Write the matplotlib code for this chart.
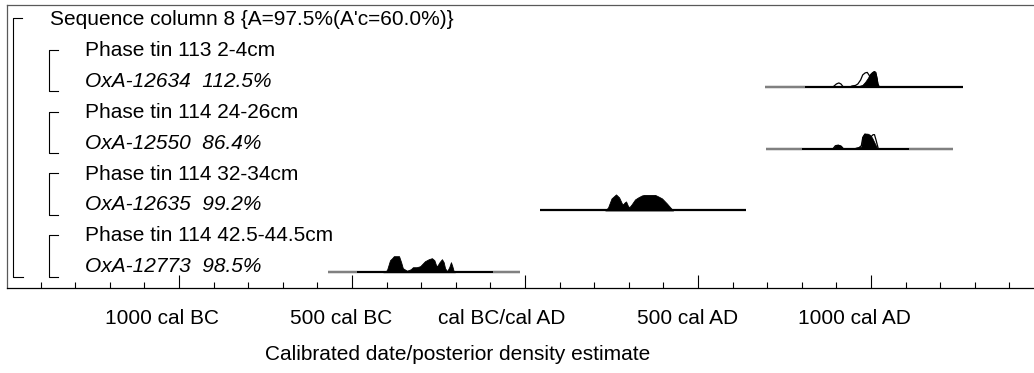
import numpy as np
import matplotlib
matplotlib.use("Agg")
import matplotlib.pyplot as plt
from matplotlib.transforms import ScaledTranslation, blended_transform_factory

plt.rcParams['font.family'] = ['Liberation Sans', 'DejaVu Sans']

# ---- model structure (row labels, top to bottom) ----
sequence_label = "Sequence column 8 {A=97.5%(A'c=60.0%)}"
phase_labels = ["Phase tin 113 2-4cm", "Phase tin 114 24-26cm",
                "Phase tin 114 32-34cm", "Phase tin 114 42.5-44.5cm"]
sample_labels = ["OxA-12634  112.5%", "OxA-12550  86.4%",
                 "OxA-12635  99.2%", "OxA-12773  98.5%"]

# ---- posterior densities (calendar year, relative probability) ----
post_12634_year = [957, 965, 975, 983, 991, 997, 1003, 1009, 1013, 1017, 1020]
post_12634_prob = [0, 1, 2, 5, 9, 13, 15, 16, 15, 8, 0]
post_12550_year = [890, 897, 905, 913, 920, 945, 955, 965, 972, 975, 981, 990,
                   996, 1003, 1010, 1017, 1020]
post_12550_prob = [0, 3, 4, 3, 0, 0, 1, 1.5, 2, 12, 15, 15, 14, 11, 6, 1, 0]
post_12635_year = [232, 240, 250, 263, 272, 280, 283, 288, 292, 297, 301, 308,
                   318, 327, 338, 345, 376, 385, 396, 410, 420, 428]
post_12635_prob = [0, 3, 12, 16, 13, 7, 6, 8, 9, 5, 3, 6, 11, 13, 15, 15.5,
                   15.5, 14, 12, 7, 3, 0]
post_12773_year = [-410, -399, -390, -384, -379, -364, -358, -353, -341, -330,
                   -324, -313, -303, -289, -278, -269, -262, -257, -254, -247,
                   -240, -235, -231, -225, -219, -214, -210, -206, -202]
post_12773_prob = [0, 2, 12, 14, 16, 16, 10, 4, 1.5, 3, 5, 5, 6, 11, 13, 14, 12,
                   7, 6, 10, 13, 10, 4, 1, 5, 10, 6, 1, 0]

# ---- unmodelled likelihoods (outline only) ----
like_12634_year = [890, 900, 907, 913, 920, 940, 945, 955, 962, 970, 976, 983,
                   989, 994, 997, 1003, 1009, 1015, 1020, 1024]
like_12634_prob = [0, 3, 4, 3, 0, 0, 1, 1.5, 3, 7, 12, 14, 14.5, 12, 10, 13, 15,
                   12, 3, 0]
like_12550_year = [890, 897, 905, 913, 920, 955, 965, 972, 976, 982, 988, 994,
                   1000, 1006, 1010, 1015, 1021]
like_12550_prob = [0, 3, 3.5, 2.5, 0, 0, 1, 3, 11, 14.5, 14, 10, 12, 14, 14, 8, 0]

# ---- range lines: full extent and grey (outer) segments ----
range_full = [(694, 1266), (697, 1237), (43, 639), (-569, -14)]
range_grey = [[(694, 809)], [(697, 801), (1110, 1237)], [],
              [(-569, -486), (-92, -14)]]

posteriors = [(post_12634_year, post_12634_prob), (post_12550_year, post_12550_prob),
              (post_12635_year, post_12635_prob), (post_12773_year, post_12773_prob)]
likelihoods = [(like_12634_year, like_12634_prob), (like_12550_year, like_12550_prob),
               None, None]

# ---- axis ----
major_years = [-1000, -500, 0, 500, 1000]
major_labels = ["1000 cal BC", "500 cal BC", "cal BC/cal AD", "500 cal AD", "1000 cal AD"]
minor_years = np.arange(-1400, 1401, 100)

W, H = 1034, 373
fig = plt.figure(figsize=(W / 100, H / 100), dpi=100)
ax = fig.add_axes([7 / W, 1 - 288 / H, 1 - 7 / W, (288 - 5) / H])

row_px = 30.88
ax.set_ylim((288 - 25.2) / row_px, (5 - 25.2) / row_px)
ax.set_xlim(-1497, 1471)

peak_height = 0.52  # rows occupied by a density of relative value 16
scale = peak_height / 16.0

xt = blended_transform_factory(ax.transAxes, ax.transData)

# sequence label on row 0
ax.text(0.0415, 0, sequence_label, transform=xt, fontsize=15, va='baseline', ha='left')

for k in range(4):
    prow = 1 + 2 * k
    srow = prow + 1
    ax.text(0.076, prow, phase_labels[k], transform=xt, fontsize=15,
            va='baseline', ha='left')
    ax.text(0.076, srow, sample_labels[k], transform=xt, fontsize=15,
            va='baseline', ha='left', style='italic')
    # phase bracket
    top = prow - 0.2
    bot = srow + 0.14
    ax.plot([0.0495, 0.0412, 0.0412, 0.0495], [top, top, bot, bot],
            transform=xt, color='black', lw=0.8, clip_on=False)

    # range line
    a, b = range_full[k]
    ax.plot([a, b], [srow, srow], color='black', lw=1.6, solid_capstyle='butt', zorder=2)
    for g0, g1 in range_grey[k]:
        ax.plot([g0, g1], [srow, srow], color='0.5', lw=1.5,
                solid_capstyle='butt', zorder=3)
    # posterior (filled)
    py, pp = posteriors[k]
    ax.fill_between(py, srow, srow - np.asarray(pp) * scale, color='black',
                    lw=0.6, zorder=4)
    # likelihood (outline)
    if likelihoods[k] is not None:
        ly, lp = likelihoods[k]
        ax.plot(ly, srow - np.asarray(lp) * scale, color='black', lw=0.9, zorder=5)

# outer sequence bracket
ax.plot([0.0146, 0.0061, 0.0061, 0.0155], [-0.23, -0.23, 8 + 0.14, 8 + 0.14],
        transform=xt, color='black', lw=0.8, clip_on=False)

# frame
ax.spines['right'].set_visible(False)
ax.spines['top'].set_color('0.35')
ax.spines['left'].set_color('0.35')
ax.spines['bottom'].set_color('black')
for s in ax.spines.values():
    s.set_linewidth(0.9)

ax.set_yticks([])
ax.set_xticks(major_years)
ax.set_xticklabels(major_labels, fontsize=15)
ax.set_xticks(minor_years, minor=True)
ax.tick_params(axis='x', which='major', direction='in', length=9.5, width=0.8, pad=15)
ax.tick_params(axis='x', which='minor', direction='in', length=4.5, width=0.8)
shift = ScaledTranslation(0.40, 0, fig.dpi_scale_trans)
for lab in ax.get_xticklabels():
    lab.set_horizontalalignment('right')
    lab.set_transform(lab.get_transform() + shift)

fig.text(458 / W, 1 - 355 / H, "Calibrated date/posterior density estimate",
         fontsize=15, ha='center', va='center')

fig.savefig("out.png", dpi=100)
